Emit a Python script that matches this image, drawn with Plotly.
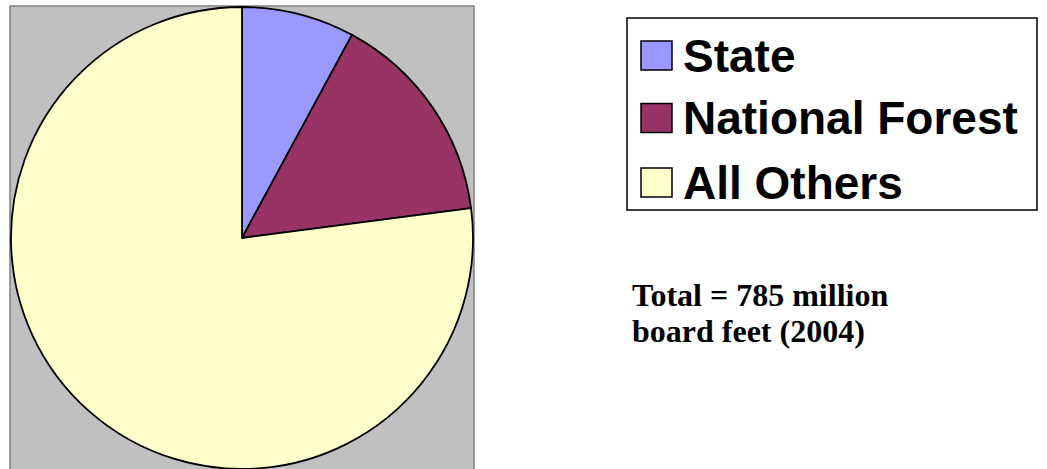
import plotly.graph_objects as go

labels = ["State", "National Forest", "All Others"]
values = [62, 118, 605]
colors = ["#9999FF", "#993366", "#FFFFCC"]
note_lines = ["Total = 785 million", "board feet (2004)"]

W, H = 1047, 469

def px(x):
    return x / W

def py(y):
    return 1 - y / H

fig = go.Figure()
fig.add_trace(go.Pie(
    labels=labels, values=values, sort=False, direction="clockwise", rotation=0,
    marker=dict(colors=colors, line=dict(color="black", width=1.8)),
    textinfo="none", hoverinfo="label+value+percent", showlegend=False,
    domain=dict(x=[px(11), px(473)], y=[0, 462 / H]),
))

shapes = [
    dict(type="rect", xref="paper", yref="paper", x0=px(10), x1=px(474), y0=py(6), y1=py(470),
         fillcolor="#C0C0C0", line=dict(color="#808080", width=1.5), layer="below"),
    dict(type="rect", xref="paper", yref="paper", x0=px(627), x1=px(1037), y0=py(18), y1=py(210),
         fillcolor="white", line=dict(color="black", width=1.5), layer="below"),
]
annotations = []
row_centers = [55.5, 118, 182.5]
for lab, col, yc in zip(labels, colors, row_centers):
    shapes.append(dict(type="rect", xref="paper", yref="paper", x0=px(641), x1=px(672),
                       y0=py(yc - 14.5), y1=py(yc + 14.5), fillcolor=col,
                       line=dict(color="black", width=1.5)))
    annotations.append(dict(text="<b>" + lab + "</b>", xref="paper", yref="paper", x=px(681), y=py(yc),
                            xanchor="left", yanchor="middle", showarrow=False,
                            font=dict(family="Liberation Sans, Arial", size=46, color="black")))
for line, yc in zip(note_lines, [295, 331]):
    annotations.append(dict(text="<b>" + line + "</b>", xref="paper", yref="paper",
                            x=px(630), y=py(yc), xanchor="left", yanchor="middle", align="left",
                            showarrow=False,
                            font=dict(family="Liberation Serif, Times New Roman", size=32, color="black")))

fig.update_layout(width=W, height=H, margin=dict(l=0, r=0, t=0, b=0),
                  paper_bgcolor="white", plot_bgcolor="white",
                  shapes=shapes, annotations=annotations, showlegend=False)
fig.write_html("out.html", config={"displayModeBar": False},
               post_script="document.body.style.margin='0';document.body.style.overflow='hidden';")
